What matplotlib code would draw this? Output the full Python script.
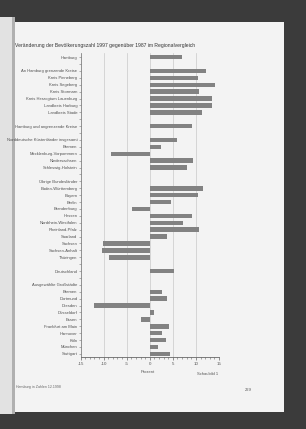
import numpy as np
import matplotlib
matplotlib.use("Agg")
import matplotlib.pyplot as plt
from matplotlib.patches import Rectangle
from matplotlib.ticker import MultipleLocator

plt.rcParams['font.family'] = ['Liberation Sans', 'DejaVu Sans']

# Zeilen von oben nach unten ('' = Leerzeile, nan = keine Balken)
labels = [
    'Hamburg', '',
    'An Hamburg grenzende Kreise', 'Kreis Pinneberg', 'Kreis Segeberg',
    'Kreis Stormarn', 'Kreis Herzogtum Lauenburg', 'Landkreis Harburg',
    'Landkreis Stade', '',
    'Hamburg und angrenzende Kreise', '',
    'Norddeutsche Küstenländer insgesamt', 'Bremen', 'Mecklenburg-Vorpommern',
    'Niedersachsen', 'Schleswig-Holstein', '',
    'Übrige Bundesländer', 'Baden-Württemberg', 'Bayern', 'Berlin',
    'Brandenburg', 'Hessen', 'Nordrhein-Westfalen', 'Rheinland-Pfalz',
    'Saarland', 'Sachsen', 'Sachsen-Anhalt', 'Thüringen', '',
    'Deutschland', '',
    'Ausgewählte Großstädte', 'Bremen', 'Dortmund', 'Dresden', 'Düsseldorf',
    'Essen', 'Frankfurt am Main', 'Hannover', 'Köln', 'München', 'Stuttgart',
]
nan = np.nan
values = [
    7.0, nan,
    12.2, 10.4, 14.2,
    10.6, 13.5, 13.5,
    11.3, nan,
    9.2, nan,
    5.8, 2.4, -8.4,
    9.3, 8.1, nan,
    nan, 11.5, 10.4, 4.6,
    -3.8, 9.2, 7.3, 10.6,
    3.7, -10.1, -10.3, -8.9, nan,
    5.2, nan,
    nan, 2.7, 3.8, -12.0, 0.9,
    -2.0, 4.2, 2.7, 3.6, 1.7, 4.4,
]
xticks = [-15, -10, -5, 0, 5, 10, 15]

W, H = 306, 429
def fx(x):
    return x / W
def fy(y):
    return 1 - y / H

fig = plt.figure(figsize=(3.06, 4.29), dpi=100)
fig.patch.set_facecolor('#3b3b3b')

# Buchseite (hinter den Achsen)
fig.add_artist(Rectangle((0, fy(414)), fx(14), fy(17) - fy(414), zorder=-10,
                         transform=fig.transFigure, facecolor='#e2e2e2', edgecolor='none'))
fig.add_artist(Rectangle((fx(14), fy(412)), fx(284) - fx(14), fy(22) - fy(412), zorder=-10,
                         transform=fig.transFigure, facecolor='#f3f3f3', edgecolor='none'))
fig.add_artist(Rectangle((fx(12), fy(414)), fx(2.5), fy(17) - fy(414), zorder=-9,
                         transform=fig.transFigure, facecolor='#b0b0b0', edgecolor='none'))

ax = fig.add_axes([fx(80.5), fy(357), fx(219) - fx(80.5), fy(53) - fy(357)])
ax.set_facecolor('none')
ax.set_zorder(5)

y = np.arange(len(labels))
vals = np.array(values, dtype=float)
ax.barh(y, np.nan_to_num(vals), height=0.65, color='#828282', zorder=3)

ax.set_xlim(-15, 15)
ax.set_ylim(len(labels) - 0.55, -0.6)
ax.set_xticks(xticks)
ax.set_xticklabels([str(t) for t in xticks], fontsize=3.2, color='#555555')
ax.xaxis.set_minor_locator(MultipleLocator(1))
ax.set_yticks(y)
ax.set_yticklabels(labels, fontsize=3.0, color='#505050')
ax.tick_params(axis='y', length=1.2, width=0.4, color='#777777', pad=1)
ax.tick_params(axis='x', which='major', length=2, width=0.5, color='#666666', pad=1.5)
ax.tick_params(axis='x', which='minor', length=1.2, width=0.4, color='#666666')
ax.grid(axis='x', color='#c8c8c8', linewidth=0.5, zorder=0)
for s in ['top', 'right']:
    ax.spines[s].set_visible(False)
ax.spines['left'].set_color('#777777')
ax.spines['left'].set_linewidth(0.5)
ax.spines['bottom'].set_color('#666666')
ax.spines['bottom'].set_linewidth(0.6)

fig.text(fx(15), fy(45), 'Veränderung der Bevölkerungszahl 1997 gegenüber 1987 im Regionalvergleich',
         fontsize=3.6, color='#333333', va='center', ha='left')
fig.text(fx(148), fy(372), 'Prozent', fontsize=3.0, color='#555555', ha='center', va='center')
fig.text(fx(208), fy(374), 'Schaubild 1', fontsize=3.0, color='#555555', ha='center', va='center')
fig.text(fx(248), fy(390), '229', fontsize=3.0, color='#555555', ha='center', va='center')
fig.text(fx(16), fy(387), 'Hamburg in Zahlen 12.1998', fontsize=2.6, color='#666666',
         ha='left', va='center')

fig.savefig('out.png', dpi=100, facecolor=fig.get_facecolor())
